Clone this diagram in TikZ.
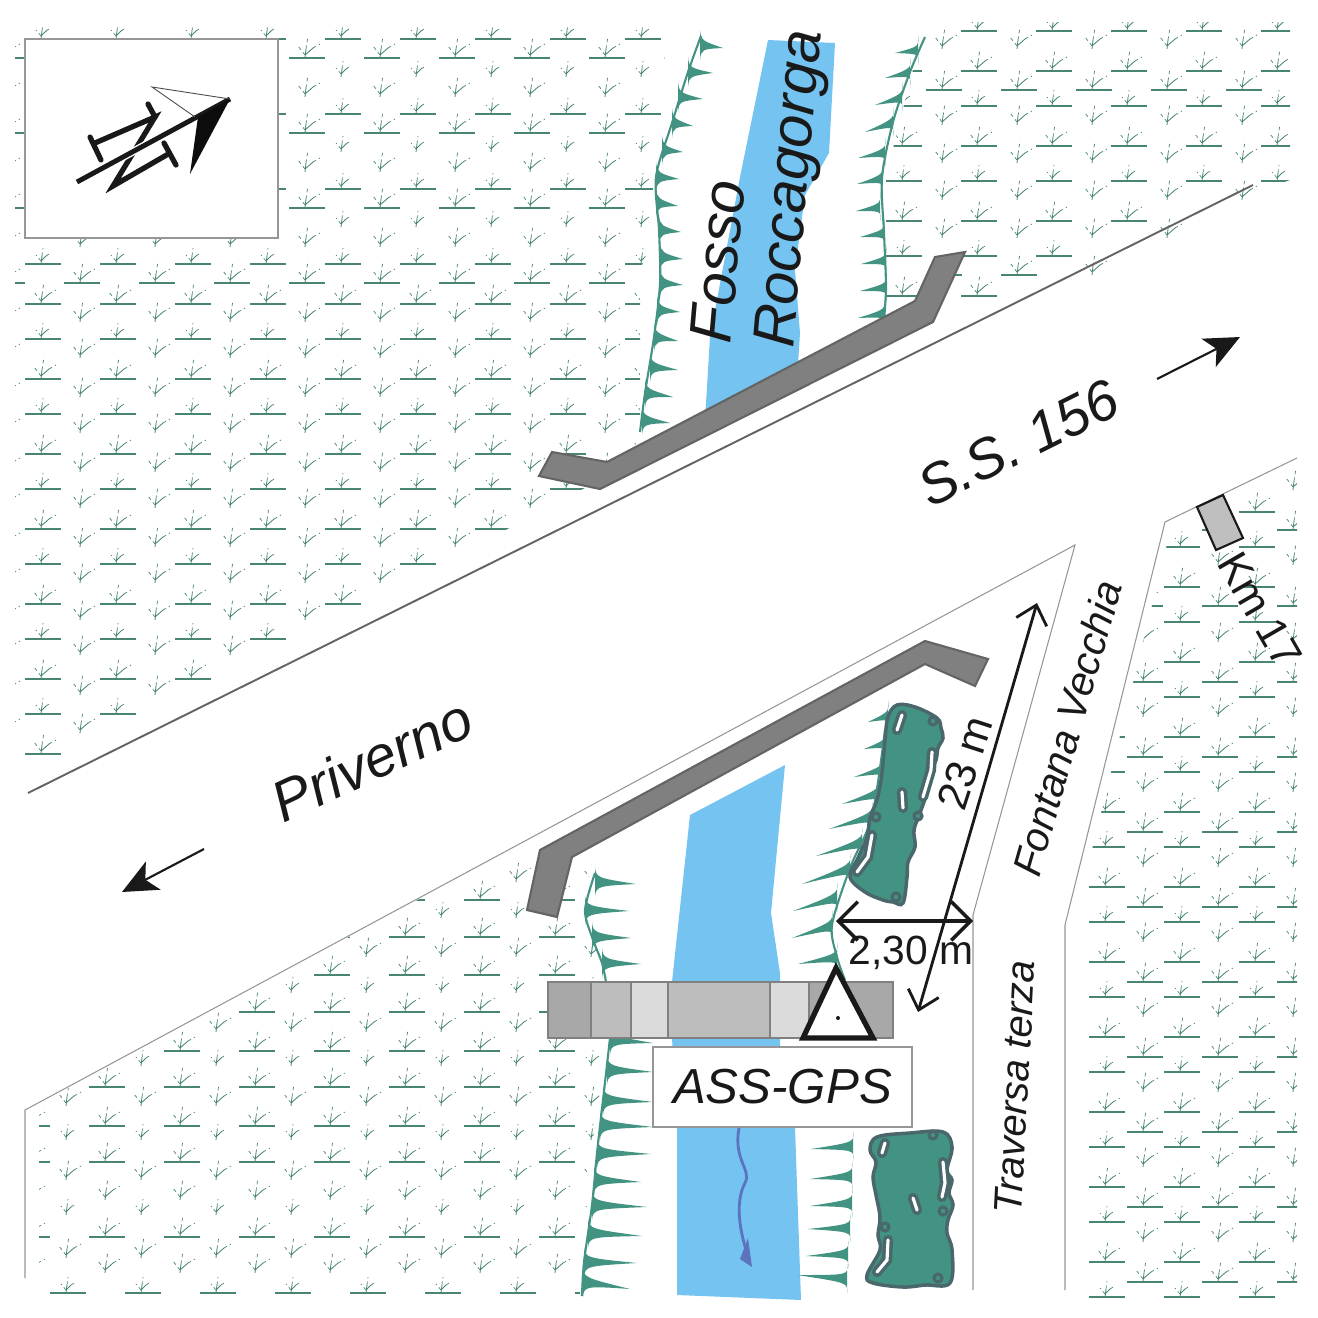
\documentclass[tikz,border=0pt]{standalone}
\usepackage{fontspec}
\setmainfont{Liberation Sans}
\usepackage{xcolor}
\usetikzlibrary{arrows.meta,positioning,calc}

\definecolor{reedcol}{RGB}{72,133,115}
\definecolor{bankcol}{RGB}{66,147,130}
\definecolor{blobedge}{RGB}{74,104,108}
\definecolor{watercol}{RGB}{117,195,240}
\definecolor{wallcol}{RGB}{128,128,128}
\definecolor{walledge}{RGB}{100,100,100}
\definecolor{thincol}{RGB}{150,150,150}
\definecolor{flowcol}{RGB}{92,116,190}

\tikzset{
  reedsolid/.style={draw=reedcol, line width=0.24pt},
  reeddash/.style={draw=reedcol, line width=0.2pt, dash pattern=on 1pt off 0.9pt},
  reedbase/.style={draw=reedcol, line width=0.36pt},
  pics/tuftbig/.style={code={
    \draw[reedsolid] (0,0) -- (1,-9);
    \draw[reeddash] (1,-9) -- (3,-22);
    \draw[reedsolid] (0,-3) -- (8,-10);
    \draw[reeddash] (8,-10) -- (15,-14);
    \draw[reeddash] (0,-3) -- (-7,-12);
  }},
  pics/tuftsmall/.style={code={
    \draw[reedsolid] (0,0) -- (1,-8);
    \draw[reeddash] (1,-8) -- (2,-16);
    \draw[reedsolid] (0,-3) -- (5,-8);
    \draw[reeddash] (5,-8) -- (8,-10);
    \draw[reeddash] (0,-3) -- (-5,-9);
  }},
  thinedge/.style={draw=thincol, line width=0.3pt},
  bankline/.style={draw=bankcol, line width=0.6pt},
  wall/.style={fill=wallcol, draw=walledge, line width=0.6pt},
  blob/.style={fill=bankcol, draw=blobedge, line width=1pt},
  blobhole/.style={draw=blobedge, line width=1pt, double=white, double distance=0.9pt, line cap=round},
  blobspot/.style={draw=blobedge, line width=0.9pt, fill=bankcol},
  deck/.style={draw=gray, line width=0.3pt},
  dimarrow/.style={black!90, line width=0.8pt, {Straight Barb[length=5pt,width=9pt]}-{Straight Barb[length=5pt,width=9pt]}},
  widtharrow/.style={black!90, line width=1pt, {Straight Barb[length=5.5pt,width=11pt]}-{Straight Barb[length=5.5pt,width=11pt]}},
  sensearrow/.style={black!90, line width=0.6pt, -{Stealth[length=10pt,width=9pt,inset=2.5pt]}},
  maptext/.style={inner sep=0pt, text=black!90, font=\fontsize{#1}{#1}\selectfont},
  mapital/.style={inner sep=0pt, text=black!90, font=\fontsize{#1}{#1}\selectfont\itshape},
}

\newcommand{\tuftat}[4]{%
  \pic at (#1,#2) {tuft#3};
  \ifnum#4=1 \draw[reedbase] (#1-16,#2) -- (#1+20,#2); \fi
}
\newcommand{\spikes}[1]{%
  \foreach \bx/\by/\tx/\ty in {#1} {
    \fill[bankcol] (\bx,\by-15) .. controls (\bx+1,\by-4) and (\bx+3,\by-4) .. (\tx,\ty) .. controls (\bx+3,\by+4) and (\bx+1,\by+4) .. (\bx,\by+15) -- cycle;
  }
}

\begin{document}
\begin{tikzpicture}[x=0.1mm, y=-0.1mm]
  \useasboundingbox (0,0) rectangle (1318,1318);

  % Reeds above the road
  \begin{scope}
    \clip (15,25) -- (665,25) -- (663,130) -- (652,195) -- (652,240) -- (640,270) -- (640,440) -- (600,480) -- (15,790) -- cycle;
    \foreach \xc in {41,116,...,641} {
      \foreach \yc/\kind/\bar in {39/small/1,77/small/0,114/small/1,152/small/0,189/small/1,227/small/0,264/small/1,304/big/1,339/small/1,379/big/1,414/small/1,454/big/1,489/small/1,529/big/1,564/small/1,604/big/1,639/small/1,679/big/1,714/small/1,754/big/1} {
        \pgfmathtruncatemacro\keep{(\yc+0.507*\xc<782)?1:0}
        \ifnum\keep=1 \tuftat{\xc}{\yc}{\kind}{\bar} \fi
      }
    }
    \foreach \xc in {5,80,...,680} {
      \foreach \yc/\kind/\bar in {58/big/1,97/big/0,133/big/1,172/big/0,208/big/1,247/big/0,283/big/1,322/big/0,358/big/0,397/big/0,433/big/0,472/big/0,508/big/0,547/big/0,583/big/0,620/big/0,655/big/0,695/big/0,733/big/0} {
        \pgfmathtruncatemacro\keep{(\yc+0.507*\xc<782)?1:0}
        \ifnum\keep=1 \tuftat{\xc}{\yc}{\kind}{\bar} \fi
      }
    }
  \end{scope}

  % Reeds right of the ditch
  \begin{scope}
    \clip (925,22) -- (1290,22) -- (1290,180) -- (1262,190) -- (885,380) -- (880,200) -- cycle;
    \foreach \xc in {902,977,...,1277} {
      \foreach \yc/\kind/\bar in {31/small/1,71/big/1,106/small/1,146/big/1,181/small/1,221/big/1,256/small/1,296/big/1} {
        \pgfmathtruncatemacro\keep{(\yc+0.496*(\xc+20)<824.6)?1:0}
        \ifnum\keep=1 \tuftat{\xc}{\yc}{\kind}{\bar} \fi
      }
    }
    \foreach \xc in {942,1017,...,1242} {
      \foreach \yc/\kind/\bar in {49/big/0,90/big/1,125/big/0,163/big/0,200/big/0,238/big/0,275/big/1} {
        \pgfmathtruncatemacro\keep{(\yc+0.496*(\xc+20)<824.6)?\bar:0}
        \tuftat{\xc}{\yc}{\kind}{\keep}
      }
    }
  \end{scope}

  % Reeds lower left
  \begin{scope}
    \clip (39,1104) -- (590,807) -- (590,870) -- (584,910) -- (600,960) -- (607,1040) -- (590,1160) -- (580,1295) -- (39,1295) -- cycle;
    \foreach \xc in {30,105,...,555} {
      \foreach \yc/\kind/\bar in {900/big/1,937/big/1,975/big/1,1012/big/1,1051/big/1,1087/big/1,1126/big/1,1162/big/1,1200/big/0,1237/big/1,1273/big/0} {
        \tuftat{\xc}{\yc}{\kind}{\bar}
      }
    }
    \foreach \xc in {66,141,...,591} {
      \foreach \yc/\kind/\bar in {882/big/0,918/small/0,957/big/0,993/small/0,1032/big/0,1066/small/0,1106/big/0,1140/small/0,1180/big/0,1215/small/0,1258/big/0,1293/small/1} {
        \tuftat{\xc}{\yc}{\kind}{\bar}
      }
    }
  \end{scope}

  % Reeds lower right
  \begin{scope}
    \clip (1171,528) -- (1297,466) -- (1297,1300) -- (1073,1300) -- (1073,927) -- cycle;
    \foreach \xc in {1105,1180,1255} {
      \foreach \yc/\kind in {512/big,547/small,587/big,622/small,662/big,697/small,737/big,772/small,812/big,847/small,887/big,922/small,962/big,997/small,1037/big,1072/small,1112/big,1147/small,1187/big,1222/small,1262/big,1297/small} {
        \tuftat{\xc}{\yc}{\kind}{1}
      }
    }
    \foreach \xc in {1143,1218,1293} {
      \foreach \yc/\bar in {490/0,530/1,565/0,606/1,642/0,682/1,717/0,757/1,792/0,832/1,867/0,907/1,942/0,982/1,1017/0,1057/1,1092/0,1132/1,1167/0,1207/1,1242/0,1282/1} {
        \tuftat{\xc}{\yc}{big}{\bar}
      }
    }
  \end{scope}

  % North box
  \draw[draw=thincol, fill=white, line width=0.4pt] (25,39) rectangle (278,238);
  \coordinate (northtail) at (77,182);
  \coordinate (northtip) at (230,99);
  \draw[black!90, line width=1.5pt, line join=miter] (95,143) -- (155,117) -- (113,186) -- (170,153);
  \draw[black!90, line width=1.5pt, line cap=round] (90,137) -- (101,160);
  \draw[black!90, line width=1.5pt, line cap=round] (148,104) -- (155,117);
  \draw[black!90, line width=1.5pt, line cap=round] (164,143) -- (176,165);
  \draw[white, line width=2.2pt] (northtail) -- (northtip);
  \draw[black!90, line width=1.4pt] (northtail) -- (northtip);
  \fill[black!95] (northtip) -- (198,117) -- (190,174) -- cycle;
  \draw[black!70, line width=0.25pt] (195,117) -- (152,87) -- (northtip);

  % Ditch
  \fill[watercol] (768,40) -- (835,43) -- (829,153) -- (805,195) -- (795,270) -- (800,333) -- (797,380) -- (705,420) -- (710,337) -- (740,177) -- cycle;
  \fill[watercol] (690,815) -- (785,765) -- (771,913) -- (780,973) -- (780,1047) -- (795,1127) -- (801,1300) -- (677,1295) -- (677,1127) -- (672,1038) -- (672,982) -- cycle;

  % Banks
  \draw[bankline] plot[smooth] coordinates {(701,36) (688,72) (672,123) (656,177) (659,230) (660,283) (654,337) (645,393) (640,432)};
  \draw[bankline] plot[smooth] coordinates {(925,37) (910,72) (893,122) (882,178) (884,233) (886,287) (884,320)};
  \draw[bankline] plot[smooth] coordinates {(595,873) (585,910) (592,937) (602,963) (606,982)};
  \draw[bankline] plot[smooth] coordinates {(610,1038) (603,1100) (597,1153) (592,1205) (584,1262) (582,1296)};
  \draw[bankline] plot[smooth] coordinates {(885,730) (872,816) (850,868) (832,925) (837,957) (845,980)};
  \spikes{700/45/723/48,688/72/713/73,678/97/703/99,672/123/693/126,662/150/683/152,656/177/679/179,656/203/678/206,659/230/681/232,660/257/683/259,660/283/683/285,657/310/680/312,654/337/678/341,650/367/678/370,645/393/673/397,642/420/670/423}
  \spikes{918/50/895/53,910/72/885/78,902/97/875/105,893/122/865/132,885/152/858/158,882/178/857/184,880/207/856/211,884/233/860/237,886/260/861/264,886/287/860/291,884/313/858/318}
  \spikes{595/882/636/884,585/910/629/911,592/937/631/938,602/963/641/964,610/1040/653/1043,607/1070/653/1072,603/1100/653/1102,600/1125/653/1127,597/1153/651/1154,594/1180/641/1182,592/1205/647/1207,588/1233/642/1236,584/1262/637/1263,583/1282/630/1289}
  \spikes{888/715/868/722,885/743/864/749,883/769/854/777,878/793/842/804,872/816/829/829,862/842/816/856,850/868/802/884,837/897/793/911,832/925/792/938,837/957/798/964}
  \spikes{853/1146/811/1149,852/1176/810/1179,852/1203/810/1206,850/1228/808/1229,848/1254/806/1256,847/1279/797/1275}

  % Green patches
  \draw[blob] plot[smooth cycle, tension=0.6] coordinates {(897,705) (915,707) (937,718) (941,728) (943,738) (938,748) (936,760) (930,773) (926,795) (920,813) (914,830) (915,847) (908,862) (907,877) (903,903) (893,902) (883,900) (865,892) (850,877) (858,858) (867,837) (870,818) (877,800) (881,780) (883,763) (885,740) (888,717)};
  \draw[blobhole] (897,730) -- (902,715);
  \draw[blobhole] (932,752) -- (931,770) -- (923,797);
  \draw[blobhole] (902,792) -- (903,808);
  \draw[blobhole] (872,835) -- (868,857) -- (857,872);
  \draw[blobspot] (876,817) circle (4);
  \draw[blobspot] (918,816) circle (4);
  \draw[blobspot] (896,897) circle (4);
  \draw[blobspot] (933,721) circle (4);
  \draw[blob] plot[smooth cycle, tension=0.6] coordinates {(877,1137) (910,1133) (943,1132) (952,1147) (947,1170) (952,1180) (949,1193) (953,1205) (948,1220) (947,1233) (952,1250) (950,1283) (925,1285) (903,1287) (873,1283) (867,1275) (880,1250) (878,1235) (880,1217) (876,1195) (873,1177) (876,1162) (870,1150)};
  \draw[blobhole] (885,1143) -- (882,1153);
  \draw[blobhole] (943,1162) -- (945,1183) -- (942,1197);
  \draw[blobhole] (913,1198) -- (917,1210);
  \draw[blobhole] (888,1240) -- (887,1260) -- (877,1272);
  \draw[blobspot] (943,1211) circle (4);
  \draw[blobspot] (885,1227) circle (4);
  \draw[blobspot] (933,1135) circle (4);
  \draw[blobspot] (938,1278) circle (4);

  % Road edges
  \coordinate (roadwest) at (28,793);
  \coordinate (roadeast) at (1253,185);
  \draw[draw=walledge, line width=0.55pt] (roadwest) -- (roadeast);
  \draw[thinedge] (25,1278) -- (25,1110) -- (1075,545) -- (973,915) -- (973,1290);
  \draw[thinedge] (1297,458) -- (1165,522) -- (1065,925) -- (1065,1290);

  % Walls
  \draw[wall] (935,257) -- (965,252) -- (933,322) -- (600,489) -- (539,476) -- (552,452) -- (607,462) -- (915,301) -- cycle;
  \draw[wall] (925,641) -- (988,659) -- (975,686) -- (925,664) -- (572,857) -- (557,917) -- (527,910) -- (540,850) -- cycle;

  % Bridge
  \foreach \xa/\xb/\shade in {548/591/66,591/631/74,631/668/86,668/770/74,770/809/86,809/893/66} {
    \draw[deck, fill=black!\the\numexpr100-\shade\relax] (\xa,982) rectangle (\xb,1038);
  }

  % Station
  \draw[black!90, fill=white, line width=1.5pt, line join=miter] (836,968) -- (873,1038) -- (803,1038) -- cycle;
  \fill[black!90] (838,1018) circle (2);
  \node[draw=thincol, fill=white, line width=0.3pt, minimum width=259*0.1mm, minimum height=80*0.1mm, inner sep=0pt, font=\fontsize{14}{14}\selectfont\itshape, text=black!90] (stationlabel) at (782.5,1087) {\raisebox{-0.5mm}{ASS-GPS}};

  % Flow
  \draw[flowcol, line width=0.8pt] (739,1128) .. controls (733,1160) and (752,1170) .. (745,1183) .. controls (736,1200) and (738,1225) .. (747,1253);
  \fill[flowcol] (748,1238) -- (752,1267) -- (740,1259) -- cycle;

  % Measures
  \coordinate (longnorth) at (1037,603);
  \coordinate (longsouth) at (918,1012);
  \coordinate (widewest) at (836,921);
  \coordinate (wideeast) at (973,921);
  \draw[dimarrow] (longnorth) -- (longsouth);
  \draw[widtharrow] (widewest) -- (wideeast);
  \coordinate (eastfrom) at (1157,379);
  \coordinate (eastto) at (1240,337);
  \coordinate (westfrom) at (204,849);
  \coordinate (westto) at (122,892);
  \draw[sensearrow] (eastfrom) -- (eastto);
  \draw[sensearrow] (westfrom) -- (westto);

  % Labels
  \node[mapital=17, rotate=85, anchor=base] (fosso) at (738,263) {Fosso};
  \node[mapital=16.8, rotate=85, anchor=base] (roccagorga) at (807,190) {Roccagorga};
  \node[mapital=16, rotate=26.5] (statale) at (1018,443) {S.S.\ 156};
  \node[mapital=16.3, rotate=25] (priverno) at (372,760) {Priverno};
  \node[mapital=11.6, rotate=74] (fontana) at (1067,728) {Fontana Vecchia};
  \node[mapital=11.3, rotate=87] (traversa) at (1015,1087) {Traversa terza};
  \node[maptext=12.2, rotate=72] (longlabel) at (965,763) {23 m};
  \node[maptext=11.6] (widelabel) at (911,953) {2,30 m};
  \draw[black!90, fill=black!25, line width=0.6pt] (1197,507) -- (1223,495) -- (1243,538) -- (1216,550) -- cycle;
  \node[maptext=12.2, rotate=-60] (kmlabel) at (1260,610) {Km 17};
\end{tikzpicture}
\end{document}
